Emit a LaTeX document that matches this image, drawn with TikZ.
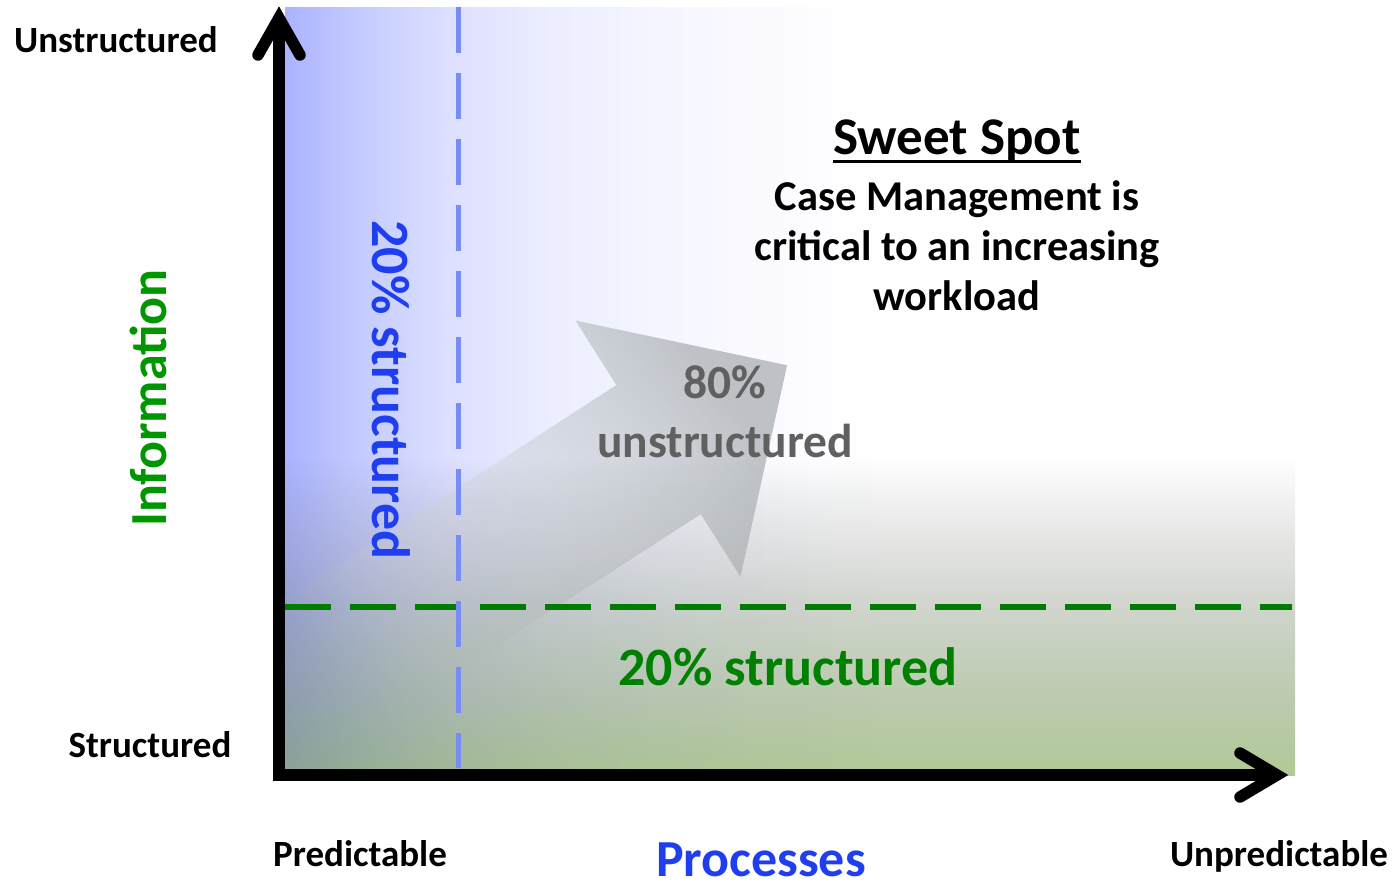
\documentclass[tikz,border=0pt]{standalone}
\usepackage{fontspec}
\setmainfont{Carlito}
\usetikzlibrary{fadings}

\definecolor{bluetxt}{RGB}{31,62,240}
\definecolor{greentxt}{RGB}{0,128,0}
\definecolor{infogreen}{RGB}{0,150,0}
\definecolor{graytxt}{RGB}{96,96,96}
\definecolor{dashblue}{RGB}{120,140,245}
\definecolor{dashgreen}{RGB}{0,125,0}
\definecolor{arrtail}{RGB}{232,237,244}
\definecolor{arrhead}{RGB}{190,194,199}

\pgfdeclarehorizontalshading{bluesh}{100bp}{rgb(0bp)=(0.67,0.70,1); rgb(25bp)=(0.67,0.70,1); rgb(29.88bp)=(0.75,0.78,1); rgb(34.76bp)=(0.82,0.84,1); rgb(38.82bp)=(0.87,0.88,1); rgb(46.54bp)=(0.925,0.93,1); rgb(54.67bp)=(0.955,0.96,1); rgb(62.8bp)=(0.98,0.98,1); rgb(69.72bp)=(0.995,0.995,1); rgb(75bp)=(1,1,1); rgb(100bp)=(1,1,1)}

\pgfdeclareverticalshading{greensh}{100bp}{rgb(0bp)=(0.698,0.788,0.588); rgb(25bp)=(0.698,0.788,0.588); rgb(27.4bp)=(0.702,0.788,0.604); rgb(36.8bp)=(0.737,0.792,0.686); rgb(44.7bp)=(0.776,0.816,0.741); rgb(52.6bp)=(0.824,0.839,0.812); rgb(60.5bp)=(0.886,0.890,0.882); rgb(68.4bp)=(0.941,0.945,0.941); rgb(75bp)=(1,1,1); rgb(100bp)=(1,1,1)}

\tikzfading[name=arrowfade, left color=transparent!100, middle color=transparent!78, right color=transparent!0]
\tikzfading[name=fadeup, top color=transparent!100, bottom color=transparent!0]

\tikzset{
  lbl/.style={inner sep=0pt, anchor=base},
  smalllbl/.style={lbl, font=\bfseries\fontsize{37bp}{44bp}\selectfont},
  axislbl/.style={lbl, font=\bfseries\fontsize{52bp}{60bp}\selectfont},
  biglbl/.style={lbl, font=\bfseries\fontsize{54bp}{62bp}\selectfont},
  caselbl/.style={lbl, font=\bfseries\fontsize{42.5bp}{50bp}\selectfont},
  pctlbl/.style={lbl, font=\bfseries\fontsize{47.5bp}{56bp}\selectfont, text=graytxt},
  axisline/.style={line width=11.5bp, black},
}

\begin{document}
\begin{tikzpicture}[x=1bp,y=-1bp]
\useasboundingbox (0,0) rectangle (1392,888);

% blue band
\shade[shading=bluesh] (285,7) rectangle (900,775);

% big gray arrow
\begin{scope}
\clip (285,7) rectangle (1295,775);
\shade[left color=arrtail, right color=arrhead, shading angle=123,
       path fading=arrowfade, fading angle=33]
  (265,609) -- (618,380) -- (577,315) -- (790,360) -- (743,573) -- (703,510) -- (350,738) -- cycle;
\end{scope}

% green band
\begin{scope}[blend mode=multiply]
\shade[shading=greensh] (285,458) rectangle (1295,775);
\end{scope}
\shade[shading=greensh, path fading=fadeup, fill opacity=0.35] (285,458) rectangle (1295,775);

% dashed lines
\coordinate (gdl) at (285,607);
\coordinate (gdr) at (1292,607);
\coordinate (bdt) at (458,7);
\coordinate (bdb) at (458,768);
\draw[dashgreen, line width=6bp, dash pattern=on 46bp off 19bp] (gdl) -- (gdr);
\draw[dashblue, line width=5bp, dash pattern=on 46bp off 20bp] (bdt) -- (bdb);

% axes
\coordinate (O) at (279,775);
\coordinate (ytip) at (279,18);
\coordinate (xtip) at (1277,775);
\draw[axisline, line join=miter] (ytip) -- (O) -- (xtip);
\draw[axisline, line cap=round, line join=miter] (258,55) -- (ytip) -- (300,55);
\draw[axisline, line cap=round, line join=miter] (1240,753) -- (xtip) -- (1240,797);

% axis labels
\node[smalllbl] (unstr) at (116,52) {Unstructured};
\node[smalllbl] (str) at (150,757) {Structured};
\node[smalllbl] (pred) at (360,866) {Predictable};
\node[smalllbl] (unpred) at (1279,866) {Unpredictable};
\node[axislbl, text=bluetxt, text depth=0pt] (proc) at (761,876) {Processes};
\node[axislbl, text=infogreen, rotate=90] (info) at (166,398) {Information};

% region labels
\node[biglbl, text=bluetxt, rotate=-90] (bluepct) at (372,390) {20\% structured};
\node[biglbl, text=greentxt] (greenpct) at (788,685) {20\% structured};
\node[pctlbl] (p80) at (725,398) {80\%};
\node[pctlbl] (p80b) at (725,457) {unstructured};

% sweet spot
\node[lbl, font=\bfseries\fontsize{53bp}{60bp}\selectfont] (sweet) at (957,154) {Sweet Spot};
\draw[line width=3bp] ([yshift=-7bp]sweet.base west) -- ([yshift=-7bp]sweet.base east);
\node[caselbl] (c1) at (957,210) {Case Management is};
\node[caselbl] (c2) at (957,260) {critical to an increasing};
\node[caselbl] (c3) at (957,310) {workload};
\end{tikzpicture}
\end{document}
